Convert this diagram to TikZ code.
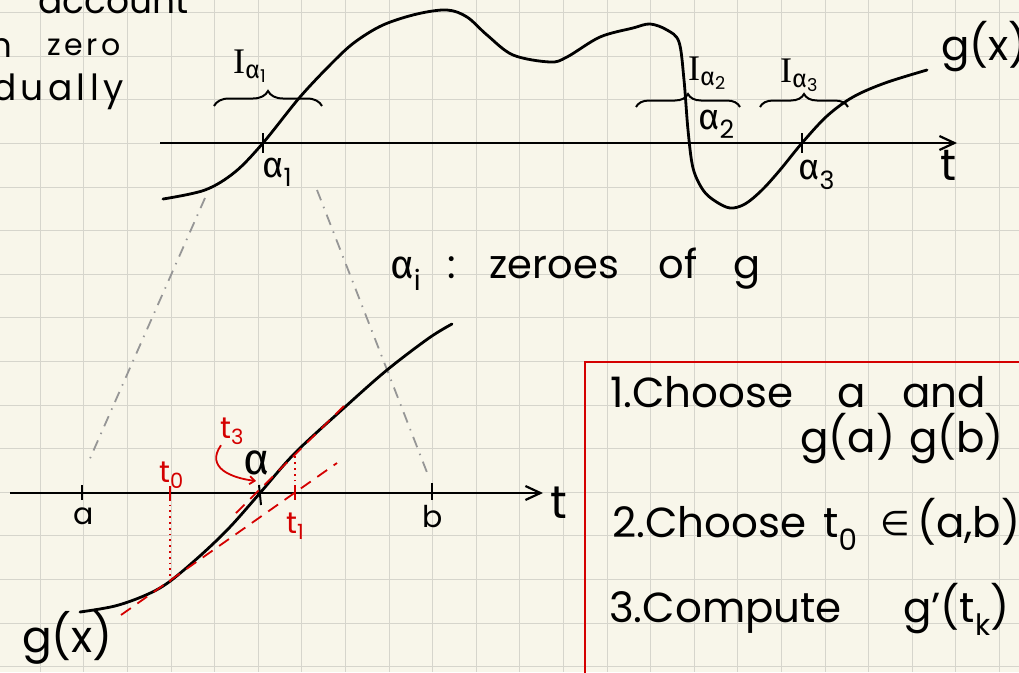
\documentclass[tikz,border=0pt]{standalone}
\usepackage{fontspec}
\setmainfont{Poppins}
\newfontfamily\greekfont{Fira Sans}
\newfontfamily\seriffont{Liberation Serif}
\newfontfamily\symbfont{DejaVu Sans}
\newcommand{\galpha}{{\greekfont α}}
\definecolor{paper}{RGB}{248,246,234}
\definecolor{gridgray}{RGB}{214,213,204}
\definecolor{penred}{RGB}{212,0,0}
\definecolor{zoomgray}{RGB}{150,150,150}
\usetikzlibrary{arrows.meta, decorations.pathreplacing}
\tikzset{
  pen/.style={line width=2.8pt, line cap=round, line join=round},
  axis/.style={line width=2.2pt, -{Straight Barb[length=15pt,width=14pt]}},
  tick/.style={line width=2pt},
  redtick/.style={line width=2pt, penred},
  tangent/.style={penred, line width=1.8pt, dash pattern=on 12pt off 8pt},
  guide/.style={penred, line width=1.8pt, dash pattern=on 1.8pt off 4pt},
  zoomline/.style={zoomgray, line width=1.8pt, dash pattern=on 11pt off 7pt on 1.5pt off 7pt},
  bracket/.style={decorate, decoration={brace, amplitude=#1}, line width=2pt},
  hand/.style={font=\fontsize{36}{40}\selectfont, inner sep=0pt},
  smallhand/.style={font=\fontsize{30}{34}\selectfont, inner sep=0pt},
  boxhand/.style={font=\fontsize{42}{46}\selectfont, inner sep=0pt, anchor=base west},
  widehand/.style={font=\fontsize{#1}{40}\selectfont\addfontfeatures{LetterSpace=12}, inner sep=0pt},
}

\begin{document}
\begin{tikzpicture}[x=1pt, y=-1pt]
      \useasboundingbox (0,0) rectangle (1019,672);
      \clip (0,0) rectangle (1019,672);
      % Squared paper
      \fill[paper] (0,0) rectangle (1019,672);
      \foreach \i in {0,...,24}
        \draw[gridgray, line width=1pt] ({-3.4+43.6*\i},0) -- ++(0,672);
      \foreach \j in {1,...,16}
        \draw[gridgray, line width=1pt] (0,{-31+43.6*\j}) -- ++(1019,0);
      % Words cut at the page edge
      \node[hand, anchor=base west] (waccount) at (38,13) {account};
      \node[widehand=34, anchor=base east] (wn) at (12,57) {n};
      \node[widehand=30, anchor=base west] (wzero) at (47,55) {zero};
      \node[widehand=36, anchor=base west] (wdually) at (-8,100) {dually};
      % Zoom window lines
      \coordinate (zwl) at (205,198);
      \coordinate (zwr) at (317,190);
      \coordinate (zbl) at (88,463);
      \coordinate (zbr) at (428,475);
      \draw[zoomline] (zwl) -- (zbl);
      \draw[zoomline] (zwr) -- (zbr);
      % Top graph: axis and ticks
      \coordinate (topstart) at (160,143);
      \coordinate (topend) at (957,143);
      \draw[axis] (topstart) -- (topend);
      \node[hand, font=\fontsize{44}{48}\selectfont, anchor=base west] (ttop) at (940,180) {t};
      \draw[tick] (263,133) -- (263,153);
      \draw[tick] (802,133) -- (802,153);
      \node[hand, anchor=base west] (aone) at (262,177) {\galpha\textsubscript{1}};
      \node[hand, anchor=base west] (atwo) at (698,129) {\galpha\textsubscript{2}};
      \node[hand, anchor=base west] (athree) at (798,179) {\galpha\textsubscript{3}};
      % Top graph: g(x)
      \draw[pen] plot[smooth, tension=0.55] coordinates {(163,199) (205,190) (235,172)
        (263,143) (300,97) (333,62) (355,42) (383,25) (417,14) (447,10) (467,17)
        (487,35) (513,55) (550,62) (567,57) (600,37) (633,28) (650,24) (667,30)
        (679,42) (684,80) (688,130) (693,168) (703,190) (715,201) (730,208)
        (745,204) (762,190) (780,170) (802,143) (827,116) (853,97) (885,83) (927,70)};
      \node[hand, font=\fontsize{42}{46}\selectfont, anchor=base west] (gtop) at (941,60) {g(x)};
      % Intervals round the zeroes
      \draw[bracket=15pt] (214,106) -- (322,106);
      \draw[bracket=13pt] (636,107) -- (740,107);
      \draw[bracket=13pt] (760,107) -- (848,107);
      \node[hand, anchor=base west] (ione) at (233,73) {{\seriffont I}\textsubscript{\galpha\textsubscript{1}}};
      \node[hand, anchor=base west] (itwo) at (688,80) {{\seriffont I}\textsubscript{\galpha\textsubscript{2}}};
      \node[hand, anchor=base west] (ithree) at (780,82) {{\seriffont I}\textsubscript{\galpha\textsubscript{3}}};
      % Note in the middle
      \node[hand, font=\fontsize{40}{44}\selectfont, anchor=base west] (zeroes) at (390,278)
        {\galpha\textsubscript{i}\hspace{26pt}:\hspace{34pt}zeroes\hspace{40pt}of\hspace{36pt}g};
      % Bottom graph: axis and ticks
      \coordinate (botstart) at (10,493);
      \coordinate (botend) at (543,493);
      \draw[axis] (botstart) -- (botend);
      \node[hand, font=\fontsize{46}{50}\selectfont, anchor=base west] (tbot) at (550,518) {t};
      \draw[tick] (82,485) -- (82,500);
      \draw[tick] (432,483) -- (432,500);
      \draw[tick] (259,485) -- (261,505);
      \node[smallhand, anchor=base] (la) at (84,524) {a};
      \node[smallhand, anchor=base] (lb) at (433,527) {b};
      \node[hand, font=\fontsize{44}{48}\selectfont, anchor=base] (lalpha) at (257,474) {\galpha};
      % Bottom graph: g(x)
      \draw[pen] plot[smooth, tension=0.55] coordinates {(80,612) (115,606) (146,595)
        (169,582) (201,555) (230,527) (260,493) (295,453) (345,407) (387,370)
        (429,338) (452,324)};
      \node[hand, font=\fontsize{44}{48}\selectfont, anchor=base west] (gbot) at (22,652) {g(x)};
      % Newton steps
      \coordinate (tzero) at (170,493);
      \coordinate (pzero) at (170,582);
      \coordinate (tone) at (295,493);
      \coordinate (pone) at (295,453);
      \draw[guide] (tzero) -- (pzero);
      \draw[guide] (tone) -- (pone);
      \draw[redtick] (170,486) -- (170,500);
      \draw[redtick] (295,486) -- (295,500);
      \draw[tangent] (121,615) -- (337,463);
      \draw[tangent] (236,513) -- (345,405);
      \node[smallhand, penred, anchor=base west] (lt0) at (159,482) {t\textsubscript{0}};
      \node[smallhand, penred, anchor=base west] (lt1) at (286,533) {t\textsubscript{1}};
      \node[smallhand, penred, anchor=base west] (lt3) at (220,438) {t\textsubscript{3}};
      \coordinate (tthree) at (256,481);
      \draw[penred, line width=1.8pt, -{Straight Barb[length=5pt,width=8pt]}]
        ([xshift=1pt]lt3.south west) .. controls (205,468) and (232,478) .. (tthree);
      % Algorithm box
      \draw[penred, line width=2.4pt] (585,362) rectangle (1040,700);
      \node[boxhand] (s1) at (610,407) {1.Choose};
      \node[boxhand] (s1a) at (837,407) {a};
      \node[boxhand] (s1b) at (902,407) {and};
      \node[boxhand] (s1g) at (800,452) {g(a)\hspace{14pt}g(b)};
      \node[boxhand] (s2) at (612,537) {2.Choose};
      \node[boxhand] (s2t) at (823,537) {t\textsubscript{0}};
      \node[boxhand, font=\fontsize{34}{38}\selectfont] (s2in) at (880,535) {{\symbfont ∈}};
      \node[boxhand] (s2ab) at (917,537) {(a,b)};
      \node[boxhand] (s3) at (609,622) {3.Compute};
      \node[boxhand] (s3g) at (903,622) {g'(t\textsubscript{k})};
    \end{tikzpicture}
\end{document}
